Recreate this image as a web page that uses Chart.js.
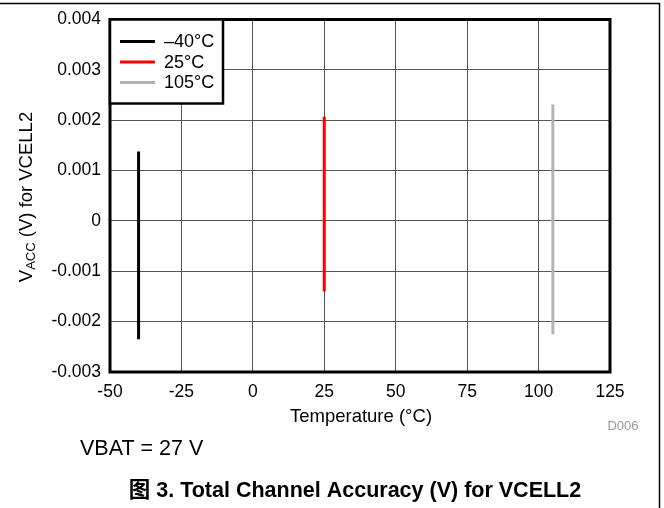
<!DOCTYPE html>
<html>
<head>
<meta charset="utf-8">
<script src="https://cdn.jsdelivr.net/npm/chart.js@4.4.1/dist/chart.umd.min.js"></script>
<style>
  html, body { margin: 0; padding: 0; background: #fff; }
  #wrap { width: 664px; height: 508px; position: relative; }
</style>
</head>
<body>
<div id="wrap"><canvas id="c" width="664" height="508"></canvas></div>
<script>
// values
const temps = [-40, 25, 105];
const seriesLabels = ["\u201340\u00b0C", "25\u00b0C", "105\u00b0C"];
const seriesColors = ["#000000", "#ff0000", "#b4b4b4"];
const vaccMax = [0.00138, 0.00207, 0.00231];
const vaccMin = [-0.00235, -0.00140, -0.00225];
const yTickLabels = ["-0.003", "-0.002", "-0.001", "0", "0.001", "0.002", "0.003", "0.004"];
const xTicks = [-50, -25, 0, 25, 50, 75, 100, 125];

const FONT = "'Liberation Sans', Arial, 'Noto Sans CJK SC', sans-serif";

const datasets = temps.map((t, i) => ({
  label: seriesLabels[i],
  data: [{ x: t, y: vaccMax[i] }, { x: t, y: vaccMin[i] }],
  borderColor: seriesColors[i],
  backgroundColor: seriesColors[i],
  borderWidth: 3,
  showLine: true,
  pointRadius: 0,
}));

// extra text, frame and legend box
const decor = {
  id: "decor",
  afterDraw(chart) {
    const ctx = chart.ctx;
    const a = chart.chartArea;
    ctx.save();

    // plot border
    ctx.strokeStyle = "#000";
    ctx.lineWidth = 3;
    ctx.strokeRect(a.left, a.top, a.right - a.left, a.bottom - a.top);

    // legend box inside plot
    const lx = a.left, ly = a.top, lw = 113, lh = 84;
    ctx.fillStyle = "#fff";
    ctx.fillRect(lx, ly, lw, lh);
    ctx.lineWidth = 2.5;
    ctx.strokeRect(lx, ly, lw, lh);
    ctx.font = "18px " + FONT;
    ctx.textBaseline = "middle";
    ctx.textAlign = "left";
    chart.data.datasets.forEach((ds, i) => {
      const y = ly + 22 + i * 20.5;
      ctx.strokeStyle = ds.borderColor;
      ctx.lineWidth = 3;
      ctx.beginPath();
      ctx.moveTo(lx + 10, y);
      ctx.lineTo(lx + 45, y);
      ctx.stroke();
      ctx.fillStyle = "#000";
      ctx.fillText(ds.label, lx + 54, y + 1);
    });

    // y axis title with subscript
    ctx.save();
    ctx.translate(27, 197);
    ctx.rotate(-Math.PI / 2);
    ctx.fillStyle = "#000";
    ctx.textBaseline = "middle";
    const p1 = "V", p2 = "ACC", p3 = " (V) for VCELL2";
    ctx.font = "18.5px " + FONT;
    const w1 = ctx.measureText(p1).width;
    const w3 = ctx.measureText(p3).width;
    ctx.font = "13px " + FONT;
    const w2 = ctx.measureText(p2).width;
    let x = -(w1 + w2 + w3) / 2;
    ctx.textAlign = "left";
    ctx.font = "18.5px " + FONT;
    ctx.fillText(p1, x, 0);
    x += w1;
    ctx.font = "13px " + FONT;
    ctx.fillText(p2, x, 4);
    x += w2;
    ctx.font = "18.5px " + FONT;
    ctx.fillText(p3, x, 0);
    ctx.restore();

    // x axis title
    ctx.fillStyle = "#000";
    ctx.textAlign = "center";
    ctx.font = "18.5px " + FONT;
    ctx.fillText("Temperature (\u00b0C)", 361, 417);

    // figure id
    ctx.fillStyle = "#999";
    ctx.font = "13px " + FONT;
    ctx.fillText("D006", 623, 426);

    // condition note
    ctx.fillStyle = "#000";
    ctx.textAlign = "left";
    ctx.font = "21.5px " + FONT;
    ctx.fillText("VBAT = 27 V", 80, 449);

    // caption
    ctx.textAlign = "center";
    ctx.font = "bold 21.5px " + FONT;
    ctx.fillText("\u56fe 3. Total Channel Accuracy (V) for VCELL2", 355, 491);

    // outer frame (top and right)
    ctx.strokeStyle = "#000";
    ctx.lineWidth = 1.5;
    ctx.beginPath();
    ctx.moveTo(0, 3.5);
    ctx.lineTo(659.5, 3.5);
    ctx.lineTo(659.5, 508);
    ctx.stroke();

    ctx.restore();
  },
};

new Chart(document.getElementById("c"), {
  type: "scatter",
  data: { datasets },
  options: {
    responsive: false,
    animation: false,
    events: [],
    layout: { padding: { top: 17, right: 54, bottom: 0, left: 0 } },
    plugins: { legend: { display: false }, tooltip: { enabled: false } },
    scales: {
      x: {
        type: "linear",
        min: -50,
        max: 125,
        afterBuildTicks: (s) => { s.ticks = xTicks.map((v) => ({ value: v })); },
        afterFit: (s) => { s.height = 136; },
        ticks: {
          color: "#000",
          font: { family: FONT, size: 17.5 },
          padding: 10,
          callback: (v) => String(v),
        },
        grid: { color: "#555", lineWidth: 1, drawTicks: false },
        border: { display: false },
      },
      y: {
        type: "linear",
        min: -0.003,
        max: 0.004,
        afterBuildTicks: (s) => {
          s.ticks = yTickLabels.map((t) => ({ value: parseFloat(t) }));
        },
        afterFit: (s) => { s.width = 110; },
        ticks: {
          color: "#000",
          font: { family: FONT, size: 17.5 },
          padding: 9,
          callback: (v, i) => yTickLabels[i],
        },
        grid: { color: "#555", lineWidth: 1, drawTicks: false },
        border: { display: false },
      },
    },
  },
  plugins: [decor],
});
</script>
</body>
</html>
